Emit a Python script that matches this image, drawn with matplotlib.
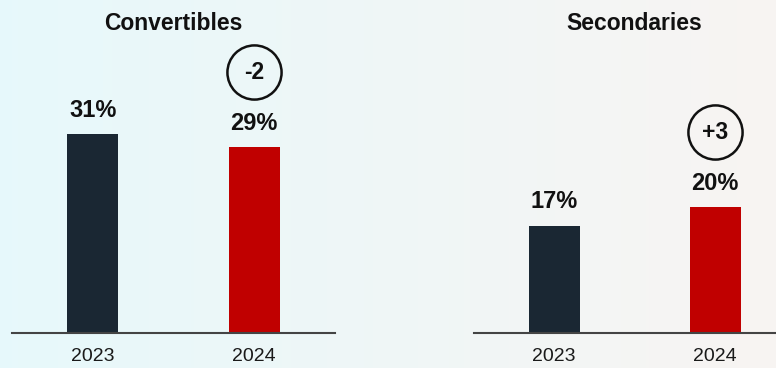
import numpy as np
import matplotlib.pyplot as plt
import matplotlib.transforms as mtransforms

plt.rcParams['font.family'] = ['Liberation Sans', 'DejaVu Sans']

# dados dos dois painéis
anos = ['2023', '2024']
titulos = ['Convertibles', 'Secondaries']
convertibles = [31, 29]
secondaries = [17, 20]
variacoes = ['-2', '+3']

cor_2023 = '#1a2733'
cor_2024 = '#c00000'

fig = plt.figure(figsize=(7.76, 3.68), dpi=100)

# fundo em degradê (ciano à esquerda, bege claro à direita)
fundo = fig.add_axes([0, 0, 1, 1], zorder=-10)
esq = np.array([0.905, 0.975, 0.985])
dir_ = np.array([0.972, 0.958, 0.950])
t = np.linspace(0, 1, 256)[None, :, None]
grad = esq * (1 - t) + dir_ * t
grad = np.repeat(grad, 2, axis=0)
fundo.imshow(grad, aspect='auto', extent=[0, 1, 0, 1])
fundo.axis('off')

# posição dos eixos em fração da figura
base = (368 - 332.7) / 368
altura = 332.7 / 368
eixos = [
    fig.add_axes([12 / 776, base, 323 / 776, altura]),
    fig.add_axes([473.7 / 776, base, 322 / 776, altura]),
]
ymax = [52.0, 53.0]

for ax, titulo, valores, var, ym in zip(eixos, titulos, [convertibles, secondaries], variacoes, ymax):
    ax.patch.set_alpha(0)
    x = np.arange(len(anos))
    ax.bar(x, valores, width=0.315, color=[cor_2023, cor_2024])
    ax.set_xlim(-0.5, 1.5)
    ax.set_ylim(0, ym)

    for s in ['top', 'right', 'left']:
        ax.spines[s].set_visible(False)
    ax.spines['bottom'].set_color('#444444')
    ax.spines['bottom'].set_linewidth(1.5)
    ax.set_yticks([])
    ax.set_xticks(x)
    ax.set_xticklabels(anos, fontsize=14, color='#1a1a1a')
    ax.tick_params(axis='x', length=0, pad=11)

    # rótulos de valor
    for xi, v in zip(x, valores):
        ax.annotate(f'{v}%', (xi, v), xytext=(0, 17.3), textcoords='offset points',
                    ha='center', va='center', fontsize=17, fontweight='bold', color='#111111')

    # círculo com a variação
    tr = mtransforms.offset_copy(ax.transData, fig=fig, x=0, y=75, units='dots')
    ax.plot([1], [valores[1]], marker='o', markersize=39, mfc='none', mec='#111111',
            mew=1.8, transform=tr, clip_on=False)
    ax.text(1, valores[1], var, transform=tr, ha='center', va='center',
            fontsize=16.5, fontweight='bold', color='#111111')

    ax.text(0.5, 1 - 23 / 332.7, titulo, transform=ax.get_xaxis_transform(),
            ha='center', va='center', fontsize=16.5, fontweight='bold', color='#111111')

plt.savefig('out.png', dpi=100)
